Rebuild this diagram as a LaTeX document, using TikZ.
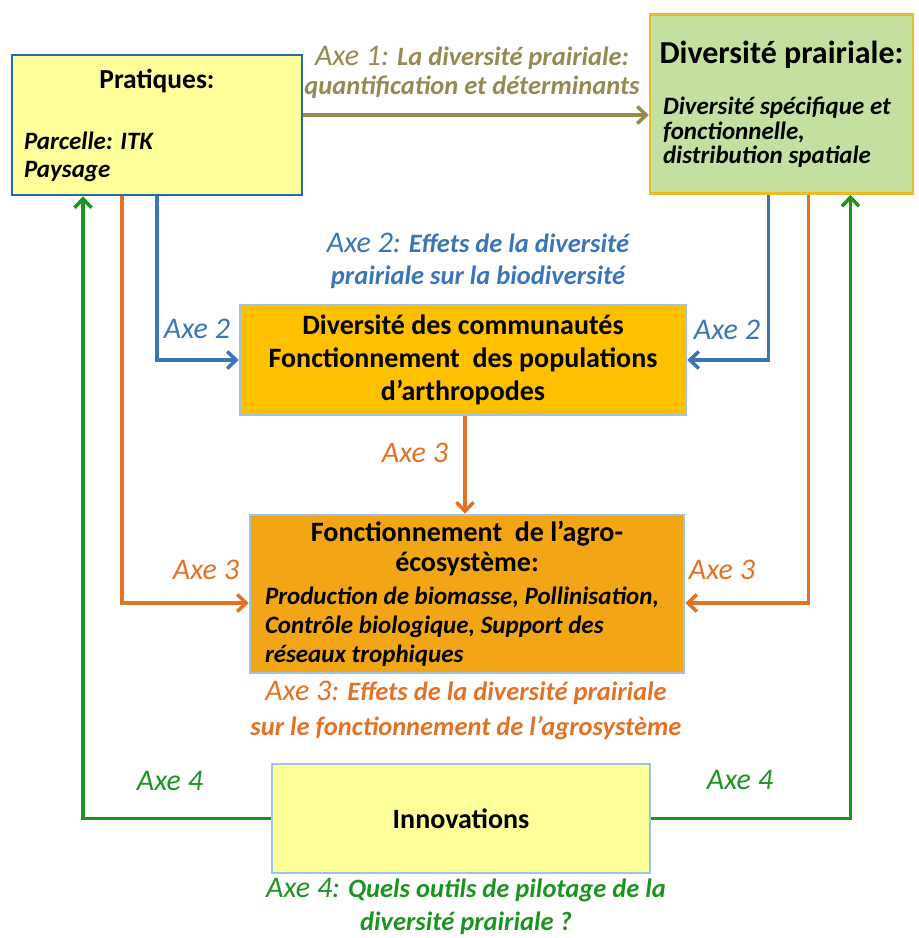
\documentclass[tikz,border=0pt]{standalone}
\usepackage{fontspec}
\setmainfont{Carlito}
\usepackage{tikz}
\usetikzlibrary{arrows.meta}

\definecolor{jaune}{RGB}{255,255,153}
\definecolor{vertclair}{RGB}{196,224,160}
\definecolor{or}{RGB}{238,186,40}
\definecolor{bleubord}{RGB}{40,105,170}
\definecolor{bleuclair}{RGB}{157,195,230}
\definecolor{orange1}{RGB}{255,192,0}
\definecolor{orange2}{RGB}{242,166,22}
\definecolor{kaki}{RGB}{148,138,84}
\definecolor{bleu}{RGB}{58,117,183}
\definecolor{orangefl}{RGB}{226,114,38}
\definecolor{vert}{RGB}{28,148,32}

\newcommand{\titre}{\fontsize{28}{33}\selectfont\bfseries}
\newcommand{\detail}[1]{\fontsize{25}{#1}\selectfont\bfseries\itshape}
\newcommand{\legtxt}[1]{\fontsize{26.5}{#1}\selectfont\bfseries\itshape}
\newcommand{\axe}{\fontsize{30}{30}\selectfont\mdseries\itshape}
\newcommand{\agauche}[2]{\makebox[#1][l]{#2}}

\begin{document}
\begin{tikzpicture}[x=1pt,y=1pt,
  boite/.style={rectangle,draw,line width=2.5pt,inner sep=0pt,align=center},
  fleche/.style={line width=3.5pt,-{Straight Barb[length=9pt,width=17pt]}},
  legende/.style={align=center}]
\useasboundingbox (0,0) rectangle (919,-938);
%\draw[help lines,step=50] (0,0) grid (919,-938);
\path
(157,-125) node(prat) [boite,draw=bleubord,fill=jaune,minimum width=290,minimum height=140,font=\detail{28}]
  {{\fontsize{27.5}{30}\selectfont\bfseries\upshape Pratiques:}\\[33pt]
   \agauche{266pt}{Parcelle: ITK}\\
   \agauche{266pt}{Paysage}}
(781.5,-104) node(divp) [boite,draw=or,fill=vertclair,minimum width=263,minimum height=179,font=\detail{24.5}]
  {{\fontsize{32}{34}\selectfont\bfseries\upshape Diversité prairiale:}\\[27pt]
   \agauche{237pt}{Diversité spécifique et}\\
   \agauche{237pt}{fonctionnelle,}\\
   \agauche{237pt}{distribution spatiale}}
(463,-360) node(comm) [boite,draw=bleuclair,fill=orange1,minimum width=446,minimum height=110,font=\titre]
  {Diversité des communautés\\Fonctionnement\ \ des populations\\d’arthropodes}
(467,-594) node(agro) [boite,draw=bleuclair,fill=orange2,minimum width=434,minimum height=158,font=\detail{29}]
  {{\titre\upshape Fonctionnement\ \ de l’agro-}\\[1pt]{\titre\upshape écosystème:}\\[4pt]
   \agauche{404pt}{Production de biomasse, Pollinisation,}\\
   \agauche{404pt}{Contrôle biologique, Support des}\\
   \agauche{404pt}{réseaux trophiques}}
(461,-818.5) node(innov) [boite,draw=bleuclair,fill=jaune,minimum width=378,minimum height=109,font=\fontsize{28}{32}\selectfont\bfseries]
  {Innovations};

% legendes des axes
\path[legende]
(472,-72) node(lax1) [text=kaki,font=\legtxt{29}] {{\axe Axe 1:} La diversité prairiale:\\quantification et déterminants}
(478,-261) node(lax2) [text=bleu,font=\legtxt{32}] {{\axe Axe 2:} Effets de la diversité\\prairiale sur la biodiversité}
(466,-710) node(lax3) [text=orangefl,font=\legtxt{35}] {{\axe Axe 3:} Effets de la diversité prairiale\\sur le fonctionnement de l’agrosystème}
(466,-906) node(lax4) [text=vert,font=\legtxt{33}] {{\axe Axe 4:} Quels outils de pilotage de la\\diversité prairiale ?};
\path[font=\axe]
(197,-329) node(a2g) [text=bleu] {Axe 2}
(727,-330) node(a2d) [text=bleu] {Axe 2}
(415,-453) node(a3m) [text=orangefl] {Axe 3}
(206,-570) node(a3g) [text=orangefl] {Axe 3}
(722,-570) node(a3d) [text=orangefl] {Axe 3}
(170,-781) node(a4g) [text=vert] {Axe 4}
(740,-780) node(a4d) [text=vert] {Axe 4};

\draw[fleche,kaki] ([yshift=10pt]prat.east) -- ([yshift=10pt]prat.east -| divp.west);
\draw[fleche,bleu] (prat.south) |- (comm.west);
\draw[fleche,bleu] ([xshift=-13pt]divp.south) |- (comm.east);
\draw[fleche,orangefl] ([xshift=2pt]comm.south) -- ([xshift=2pt]comm.south |- agro.north);
\draw[fleche,orangefl] ([xshift=-35pt]prat.south) |- ([yshift=-9pt]agro.west);
\draw[fleche,orangefl] ([xshift=27pt]divp.south) |- ([yshift=-9pt]agro.east);
\draw[fleche,vert] (innov.west) -| ([xshift=-74pt]prat.south);
\draw[fleche,vert] (innov.east) -| ([xshift=69pt]divp.south);
\end{tikzpicture}
\end{document}
